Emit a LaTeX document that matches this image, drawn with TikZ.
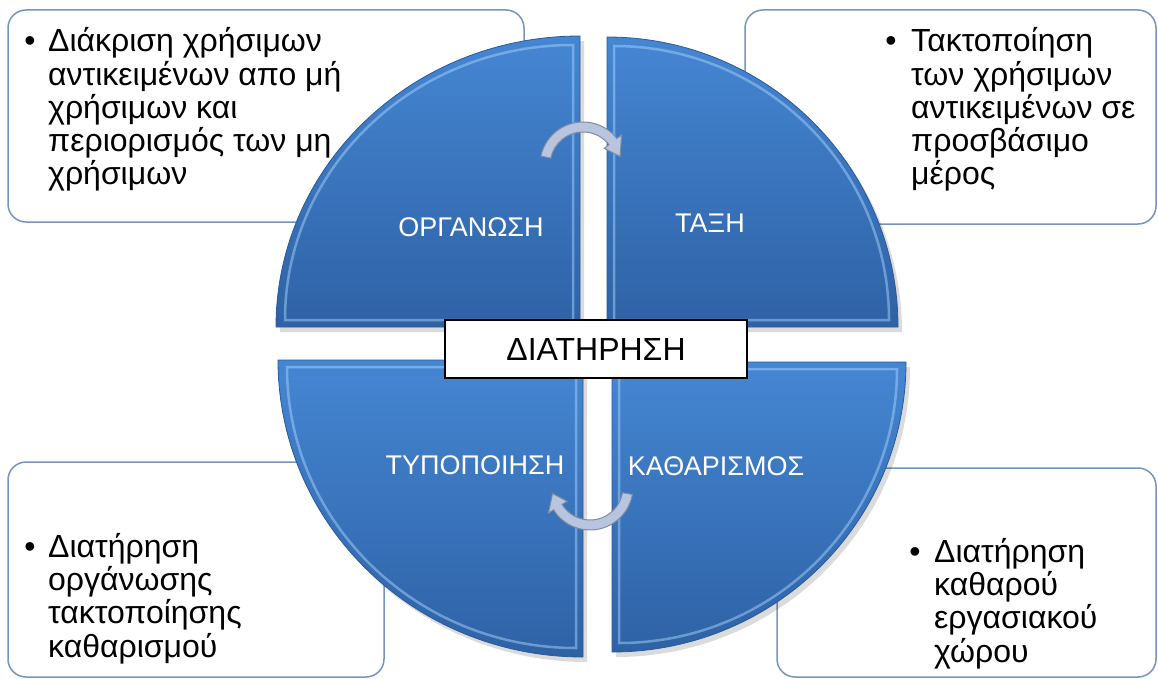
\documentclass[tikz,border=0pt]{standalone}
\usepackage{fontspec}
\setmainfont{Liberation Sans}
\usetikzlibrary{arrows.meta}
\definecolor{qtop}{HTML}{4586D3}
\definecolor{qbot}{HTML}{2E62A5}
\definecolor{qedge}{HTML}{2B5A99}
\definecolor{qbevel}{HTML}{A6D2FA}
\definecolor{boxline}{HTML}{7594BF}
\definecolor{arrfill}{HTML}{B9C5DF}
\definecolor{arrline}{HTML}{7F8CA6}
\tikzset{
 infobox/.style={draw=boxline, line width=1.5pt, fill=white, rounded corners=18pt},
 quad/.style={top color=qtop, bottom color=qbot, draw=qedge, line width=0.8pt},
 qshadow/.style={fill=black, opacity=0.14},
 bevel/.style={draw=qbevel, opacity=0.5, line width=2.5pt},
 qlabel/.style={text=white, font=\fontsize{27}{31}\selectfont, inner sep=0pt},
 boxtext/.style={font=\fontsize{32}{33.3}\selectfont, align=left, anchor=base west, inner sep=0pt},
 bulletmark/.style={font=\fontsize{32}{33}\selectfont, anchor=base, inner sep=0pt},
 cyclearrow/.style={fill=arrfill, draw=arrline, line width=1pt},
 centerbox/.style={draw=black, line width=2pt, fill=white, minimum width=302pt, minimum height=58pt, inner sep=0pt, font=\fontsize{32}{36}\selectfont}
}
\begin{document}
\begin{tikzpicture}[x=1pt,y=-1pt]
\useasboundingbox (0,0) rectangle (1158,679);
\fill[white] (0,0) rectangle (1158,679);

% info boxes (behind)
\draw[infobox] (8,10) rectangle (524,222);
\draw[infobox] (745,10) rectangle (1156,224);
\draw[infobox] (8,462) rectangle (384,677);
\draw[infobox] (777,468) rectangle (1156,677);

% quadrant shadows
\fill[qshadow] (584,332) -- (280,332) arc[start angle=180,end angle=270,x radius=304,y radius=291] -- cycle;
\fill[qshadow] (611,332) -- (611,42) arc[start angle=270,end angle=360,x radius=291,y radius=290] -- cycle;
\fill[qshadow] (587,365) -- (282,365) arc[start angle=180,end angle=90,x radius=305,y radius=297] -- cycle;
\fill[qshadow] (616,367) -- (910,367) arc[start angle=0,end angle=90,x radius=294,y radius=290] -- cycle;

% quadrants
\draw[quad] (580,327) -- (276,327) arc[start angle=180,end angle=270,x radius=304,y radius=291] -- cycle;
\draw[quad] (607,327) -- (607,37) arc[start angle=270,end angle=360,x radius=291,y radius=290] -- cycle;
\draw[quad] (583,360) -- (278,360) arc[start angle=180,end angle=90,x radius=305,y radius=297] -- cycle;
\draw[quad] (612,362) -- (906,362) arc[start angle=0,end angle=90,x radius=294,y radius=290] -- cycle;

% bevels
\draw[bevel] (573,320) -- (285,320) arc[start angle=180,end angle=270,x radius=288,y radius=275] -- cycle;
\draw[bevel] (614,320) -- (614,46) arc[start angle=270,end angle=360,x radius=275,y radius=274] -- cycle;
\draw[bevel] (576,367) -- (287,367) arc[start angle=180,end angle=90,x radius=289,y radius=281] -- cycle;
\draw[bevel] (619,369) -- (897,369) arc[start angle=0,end angle=90,x radius=278,y radius=274] -- cycle;

% quadrant labels
\node[qlabel] (org) at (471,227) {ΟΡΓΑΝΩΣΗ};
\node[qlabel] (tax) at (710,223) {ΤΑΞΗ};
\node[qlabel] (typ) at (475,465) {ΤΥΠΟΠΟΙΗΣΗ};
\node[qlabel] (kath) at (716,466) {ΚΑΘΑΡΙΣΜΟΣ};

% cycle arrows
\coordinate (ac) at (583,165);
\coordinate (bc) at (590,487);
\filldraw[cyclearrow] ([shift={(192:43)}]ac) arc[start angle=192,end angle=322,radius=43]
  -- ([shift={(322:49)}]ac) -- ([shift={(347:38)}]ac) -- ([shift={(322:27)}]ac)
  -- ([shift={(322:33)}]ac) arc[start angle=322,end angle=192,radius=33] -- cycle;
\filldraw[cyclearrow] ([shift={(10:43)}]bc) arc[start angle=10,end angle=148,radius=43]
  -- ([shift={(148:49)}]bc) -- ([shift={(170:38)}]bc) -- ([shift={(148:27)}]bc)
  -- ([shift={(148:33)}]bc) arc[start angle=148,end angle=10,radius=33] -- cycle;

% center box
\node[centerbox] (diat) at (596,349) {ΔΙΑΤΗΡΗΣΗ};

% box texts (base anchor = baseline of the last line)
\node[bulletmark] (b1) at (30,52) {•};
\node[boxtext] (t1) at (48,185) {Διάκριση χρήσιμων\\αντικειμένων απο μή\\χρήσιμων και\\περιορισμός των μη\\χρήσιμων};
\node[bulletmark] (b2) at (891,52) {•};
\node[boxtext] (t2) at (911,185) {Τακτοποίηση\\των χρήσιμων\\αντικειμένων σε\\προσβάσιμο\\μέρος};
\node[bulletmark] (b3) at (30,557) {•};
\node[boxtext] (t3) at (48,657) {Διατήρηση\\οργάνωσης\\τακτοποίησης\\καθαρισμού};
\node[bulletmark] (b4) at (915,562) {•};
\node[boxtext] (t4) at (934,662) {Διατήρηση\\καθαρού\\εργασιακού\\χώρου};
\end{tikzpicture}
\end{document}
